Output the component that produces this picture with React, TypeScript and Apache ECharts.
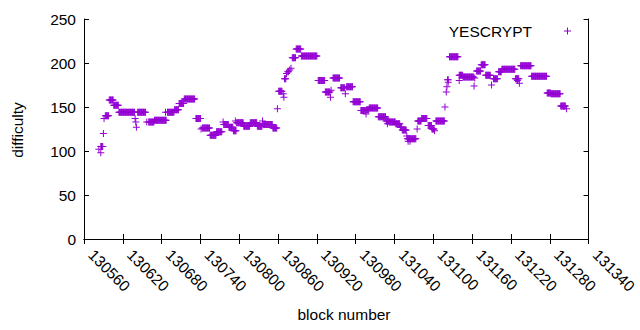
import React, { useEffect, useRef } from "react";
import * as echarts from "echarts";

// Runs of consecutive blocks with the same difficulty
// (a single block is a run whose start equals its end).
const runFrom = [
  130583, 130586, 130586, 130590, 130591, 130593, 130599, 130606, 130614, 130639,
  130640, 130641, 130643, 130657, 130660, 130669, 130686, 130689, 130700, 130707,
  130715, 130733, 130741, 130743, 130755, 130765, 130775, 130776, 130784, 130791,
  130794, 130796, 130807, 130817, 130828, 130836, 130837, 130852, 130859, 130861,
  130868, 130869, 130870, 130873, 130875, 130878, 130880, 130882, 130888, 130896,
  130922, 130933, 130941, 130942, 130945, 130957, 130964, 130966, 130976, 130988,
  130996, 130997, 131001, 131015, 131027, 131029, 131032, 131042, 131049, 131052,
  131059, 131060, 131061, 131064, 131075, 131076, 131082, 131092, 131098, 131102,
  131104, 131118, 131120, 131121, 131122, 131123, 131125, 131140, 131140, 131146,
  131163, 131164, 131167, 131174, 131181, 131190, 131193, 131201, 131206, 131227,
  131230, 131233, 131235, 131252, 131276, 131282, 131297, 131306,
];
const runTo = [
  130583, 130586, 130589, 130590, 130591, 130598, 130605, 130613, 130638, 130639,
  130640, 130641, 130655, 130657, 130668, 130687, 130686, 130699, 130706, 130714,
  130731, 130740, 130741, 130754, 130764, 130773, 130775, 130783, 130790, 130795,
  130794, 130806, 130816, 130827, 130835, 130836, 130851, 130858, 130859, 130866,
  130868, 130869, 130872, 130873, 130876, 130878, 130880, 130887, 130895, 130920,
  130932, 130940, 130941, 130942, 130955, 130963, 130964, 130975, 130987, 130995,
  130996, 131000, 131014, 131026, 131031, 131029, 131041, 131048, 131051, 131058,
  131059, 131073, 131061, 131064, 131075, 131081, 131090, 131097, 131101, 131102,
  131117, 131118, 131120, 131121, 131123, 131123, 131138, 131140, 131145, 131162,
  131163, 131164, 131173, 131180, 131188, 131190, 131199, 131205, 131226, 131232,
  131230, 131233, 131251, 131275, 131281, 131296, 131304, 131306,
];
const runDifficulty = [
  102, 98, 105, 120, 137, 140, 158, 152, 144, 137,
  133, 127, 144, 133, 133, 135, 144, 144, 147, 154,
  159, 137, 125, 126, 118, 122, 133, 130, 127, 123,
  134, 132, 128, 132, 128, 134, 130, 126, 148, 168,
  165, 161, 182, 188, 190, 192, 194, 206, 216, 208,
  180, 167, 161, 169, 183, 172, 165, 173, 156, 146,
  142, 147, 149, 139, 134, 131, 133, 131, 127, 124,
  117, 114, 111, 111, 125, 134, 137, 129, 125, 123,
  134, 150, 167, 173, 181, 178, 207, 180, 186, 184,
  174, 183, 191, 198, 186, 175, 182, 190, 193, 182,
  180, 177, 197, 185, 166, 165, 151, 148,
];

const xTicks = { min: 130560, max: 131340, step: 60 };
const yTicks = { min: 0, max: 250, step: 50 };
const seriesName = "YESCRYPT";
const xTitle = "block number";
const yTitle = "difficulty";

const PLUS = "path://M3,0H4V3H7V4H4V7H3V4H0V3H3Z";
const COLOR = "#9400D3";
const FONT = "Liberation Sans, Arial, sans-serif";

function buildPoints(): [number, number][] {
  const pts: [number, number][] = [];
  for (let i = 0; i < runFrom.length; i++) {
    for (let b = runFrom[i]; b <= runTo[i]; b++) pts.push([b, runDifficulty[i]]);
  }
  return pts;
}

export default function App() {
  const ref = useRef<HTMLDivElement>(null);
  useEffect(() => {
    if (!ref.current) return;
    document.body.style.margin = "0";
    const chart = echarts.init(ref.current, undefined, { renderer: "svg" });
    const axisLine = { show: true, lineStyle: { color: "#000", width: 1 } };
    const tick = { show: true, inside: true, length: 5, lineStyle: { color: "#000" } };
    const labelStyle = { color: "#000", fontSize: 15.5, fontFamily: FONT };
    chart.setOption({
      animation: false,
      backgroundColor: "#fff",
      grid: { left: 84, top: 19, width: 525, height: 220, containLabel: false },
      legend: {
        data: [seriesName],
        right: 69,
        top: 23,
        padding: 0,
        align: "right",
        itemWidth: 7,
        itemHeight: 7,
        icon: PLUS,
        textStyle: { ...labelStyle, padding: [0, 27, 0, 0] },
      },
      xAxis: [
        {
          type: "value",
          position: "bottom",
          min: xTicks.min,
          max: xTicks.max,
          interval: xTicks.step,
          axisLine,
          axisTick: tick,
          splitLine: { show: false },
          axisLabel: {
            ...labelStyle,
            rotate: -45,
            margin: 6,
            padding: [0, 0, 0, 10],
            interval: 0,
            hideOverlap: false,
            showMinLabel: true,
            showMaxLabel: true,
            formatter: (v: number) => String(v),
          },
        },
        {
          type: "value",
          position: "top",
          min: xTicks.min,
          max: xTicks.max,
          interval: xTicks.step,
          axisLine,
          axisTick: tick,
          splitLine: { show: false },
          axisLabel: { show: false },
        },
      ],
      yAxis: [
        {
          type: "value",
          position: "left",
          min: yTicks.min,
          max: yTicks.max,
          interval: yTicks.step,
          axisLine,
          axisTick: tick,
          splitLine: { show: false },
          axisLabel: { ...labelStyle, margin: 8 },
        },
        {
          type: "value",
          position: "right",
          min: yTicks.min,
          max: yTicks.max,
          interval: yTicks.step,
          axisLine,
          axisTick: tick,
          splitLine: { show: false },
          axisLabel: { show: false },
        },
      ],
      graphic: [
        {
          type: "text",
          x: 17,
          y: 130,
          rotation: Math.PI / 2,
          style: {
            text: yTitle,
            fill: "#000",
            fontSize: 15.5,
            fontFamily: FONT,
            align: "center",
            verticalAlign: "middle",
          },
        },
        {
          type: "text",
          x: 344,
          y: 314,
          style: {
            text: xTitle,
            fill: "#000",
            fontSize: 15.5,
            fontFamily: FONT,
            align: "center",
            verticalAlign: "middle",
          },
        },
      ],
      series: [
        {
          name: seriesName,
          type: "scatter",
          symbol: PLUS,
          symbolSize: 7,
          itemStyle: { color: COLOR, opacity: 1 },
          emphasis: { disabled: true },
          data: buildPoints(),
        },
      ],
    });
    return () => chart.dispose();
  }, []);
  return <div ref={ref} style={{ width: 640, height: 330 }} />;
}
